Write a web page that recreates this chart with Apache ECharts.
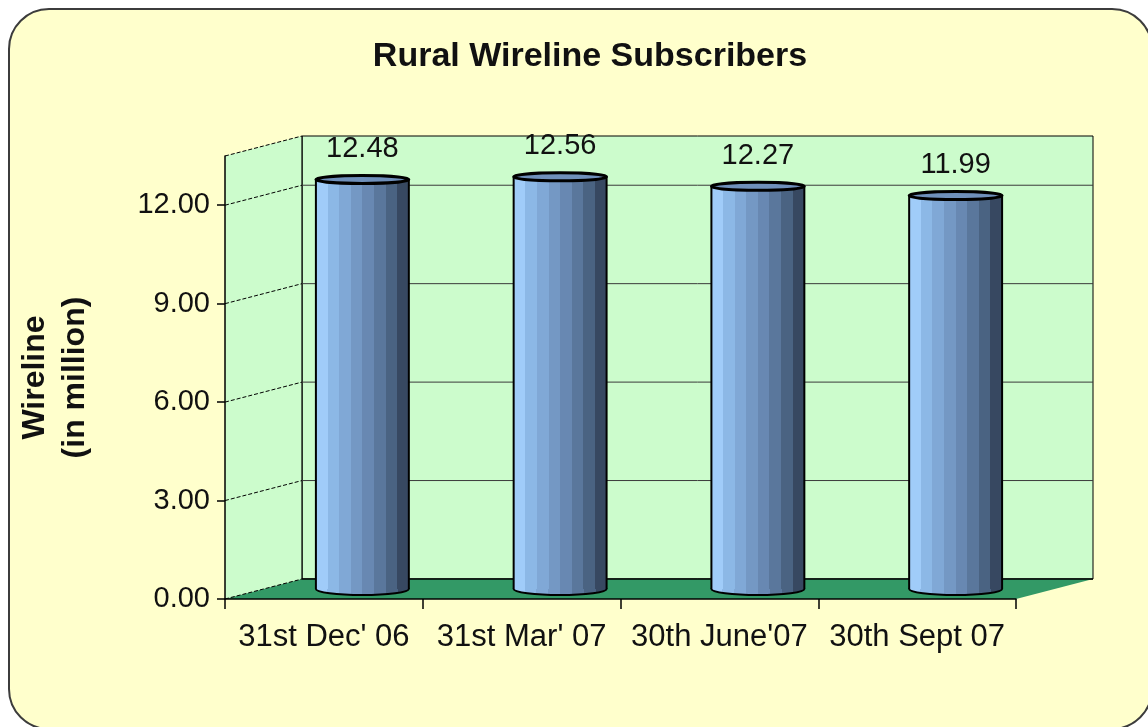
<!DOCTYPE html>
<html>
<head>
<meta charset="utf-8">
<title>Rural Wireline Subscribers</title>
<script src="https://cdn.jsdelivr.net/npm/echarts@6.0.0/dist/echarts.min.js"></script>
<style>
  html, body { margin: 0; padding: 0; background: #ffffff; }
  #chart { width: 1148px; height: 727px; }
</style>
</head>
<body>
<div id="chart"></div>
<script>
// data
const categories = ["31st Dec' 06", "31st Mar' 07", "30th June'07", "30th Sept 07"];
const subscribers = [12.48, 12.56, 12.27, 11.99];
const yTicks = [0, 3, 6, 9, 12];
const yMax = 13.5;

const FONT = "'Liberation Sans', Arial, sans-serif";
const wallColor = "#ccfccc";
const floorColor = "#339966";
// depth of the fake 3d box, pixels
const depthX = 77;
const depthY = -20;

const barBands = ["#a0ccf9", "#8cb8e6", "#80a8d6", "#7498c4", "#6888b2", "#5a779c", "#4a6382", "#374861"];
const bandStops = [];
barBands.forEach((c, i) => {
  bandStops.push({ offset: i / barBands.length, color: c });
  bandStops.push({ offset: (i + 1) / barBands.length, color: c });
});

const myChart = echarts.init(document.getElementById("chart"));

const renderWalls = (params, api) => {
  const cs = params.coordSys;
  const x0 = cs.x;
  const x1 = cs.x + cs.width;
  const yt = cs.y;
  const yb = cs.y + cs.height;
  const children = [
    {
      type: "rect",
      shape: { x: x0 + depthX, y: yt + depthY, width: cs.width, height: cs.height },
      style: { fill: wallColor, stroke: "#000", lineWidth: 1 },
    },
    {
      type: "polygon",
      shape: { points: [[x0, yb], [x0, yt], [x0 + depthX, yt + depthY], [x0 + depthX, yb + depthY]] },
      style: { fill: wallColor },
    },
    {
      type: "polygon",
      shape: { points: [[x0, yb], [x1, yb], [x1 + depthX, yb + depthY], [x0 + depthX, yb + depthY]] },
      style: { fill: floorColor },
    },
    {
      type: "line",
      shape: { x1: x0 + depthX, y1: yb + depthY, x2: x1 + depthX, y2: yb + depthY },
      style: { stroke: "#000", lineWidth: 1.5 },
    },
    {
      type: "line",
      shape: { x1: x0, y1: yt, x2: x0 + depthX, y2: yt + depthY },
      style: { stroke: "#000", lineWidth: 1, lineDash: [4, 2] },
    },
    {
      type: "line",
      shape: { x1: x0 + depthX, y1: yt + depthY, x2: x0 + depthX, y2: yb + depthY },
      style: { stroke: "#000", lineWidth: 1.2 },
    },
  ];
  yTicks.forEach((v) => {
    const y = api.coord([0, v])[1];
    children.push({
      type: "line",
      shape: { x1: x0, y1: y, x2: x0 + depthX, y2: y + depthY },
      style: { stroke: "#000", lineWidth: 1, lineDash: [4, 2] },
    });
    if (v > 0) {
      children.push({
        type: "line",
        shape: { x1: x0 + depthX, y1: y + depthY, x2: x1 + depthX, y2: y + depthY },
        style: { stroke: "#3a3a3a", lineWidth: 1 },
      });
    }
  });
  return { type: "group", children: children };
};

const renderBar = (params, api) => {
  const idx = api.value(0);
  const val = api.value(1);
  const top = api.coord([idx, val]);
  const base = api.coord([idx, 0]);
  const cx = top[0] + depthX / 2;
  const ty = top[1] + depthY / 2;
  const by = base[1] + depthY / 2;
  const w = api.size([1, 0])[0] * 0.47;
  const left = cx - w / 2;
  const fill = new echarts.graphic.LinearGradient(0, 0, 1, 0, bandStops);
  return {
    type: "group",
    children: [
      {
        type: "ellipse",
        shape: { cx: cx, cy: by, rx: w / 2, ry: 6 },
        style: { fill: fill, stroke: "#000", lineWidth: 2 },
      },
      {
        type: "rect",
        shape: { x: left, y: ty, width: w, height: by - ty },
        style: { fill: fill },
      },
      {
        type: "line",
        shape: { x1: left, y1: ty, x2: left, y2: by },
        style: { stroke: "#000", lineWidth: 2 },
      },
      {
        type: "line",
        shape: { x1: left + w, y1: ty, x2: left + w, y2: by },
        style: { stroke: "#000", lineWidth: 2 },
      },
      {
        type: "ellipse",
        shape: { cx: cx, cy: ty, rx: w / 2, ry: 4 },
        style: { fill: "#6f90bb", stroke: "#000", lineWidth: 3 },
      },
      {
        type: "text",
        style: {
          text: val.toFixed(2),
          x: cx,
          y: ty - 16,
          align: "center",
          verticalAlign: "bottom",
          fontSize: 29,
          fontFamily: FONT,
          fill: "#111",
        },
      },
    ],
  };
};

const setOption = () => {
  const option = {
    animation: false,
    graphic: [
      {
        type: "rect",
        z: -10,
        shape: { x: 9, y: 9, width: 1143, height: 720, r: 40 },
        style: { fill: "#ffffcc", stroke: "#3c3c3c", lineWidth: 2 },
      },
      {
        type: "text",
        x: 590,
        y: 57,
        style: {
          text: "Rural Wireline Subscribers",
          align: "center",
          verticalAlign: "middle",
          fontSize: 34,
          fontWeight: "bold",
          fontFamily: FONT,
          fill: "#111",
        },
      },
    ],
    grid: {
      left: 225,
      top: 156,
      width: 791,
      bottom: 128,
    },
    xAxis: {
      type: "category",
      data: categories,
      z: 10,
      axisLine: { lineStyle: { color: "#000", width: 1.5 } },
      axisTick: { show: true, interval: 0, length: 10, lineStyle: { color: "#000", width: 1.5 } },
      axisLabel: { interval: 0, color: "#111", fontSize: 31, fontFamily: FONT, margin: 23 },
      splitLine: { show: false },
    },
    yAxis: {
      type: "value",
      min: 0,
      max: yMax,
      z: 10,
      name: "Wireline\n(in million)",
      nameLocation: "middle",
      nameRotate: 90,
      nameGap: 130,
      nameTextStyle: { fontSize: 32, fontWeight: "bold", fontFamily: FONT, color: "#111", lineHeight: 40 },
      axisLine: { show: true, lineStyle: { color: "#000", width: 1.5 } },
      axisTick: { show: true, length: 8, customValues: yTicks, lineStyle: { color: "#000", width: 1.5 } },
      axisLabel: {
        customValues: yTicks,
        color: "#111",
        fontSize: 29,
        fontFamily: FONT,
        margin: 15,
        formatter: (v) => v.toFixed(2),
      },
      splitLine: { show: false },
    },
    series: [
      {
        type: "custom",
        name: "walls",
        z: 1,
        silent: true,
        renderItem: renderWalls,
        data: [[0, 0]],
      },
      {
        type: "custom",
        name: "Rural Wireline",
        z: 3,
        renderItem: renderBar,
        encode: { x: 0, y: 1 },
        data: subscribers.map((v, i) => [i, v]),
      },
    ],
  };
  option && myChart.setOption(option);
};

setOption();
</script>
</body>
</html>
